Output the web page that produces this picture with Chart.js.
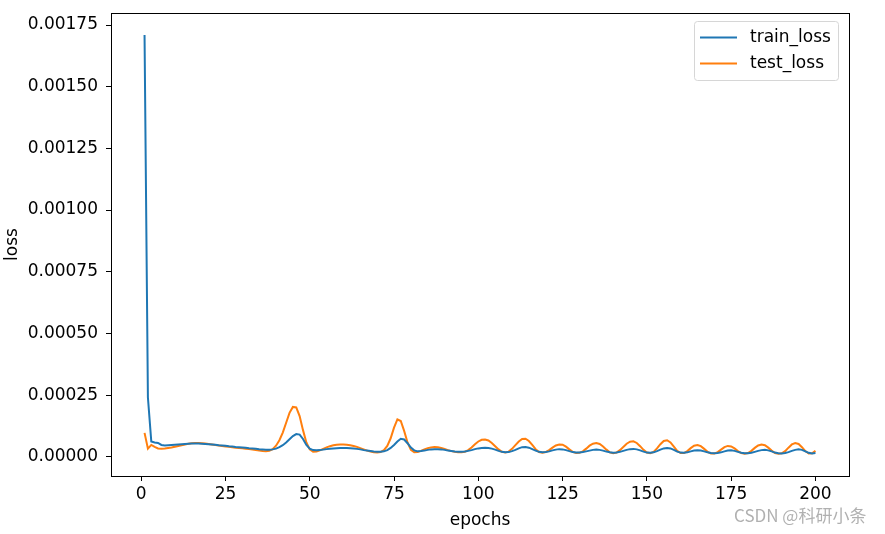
<!DOCTYPE html>
<html>
  <head>
    <script src="https://cdn.jsdelivr.net/npm/chart.js@4.4.0/dist/chart.umd.min.js"></script>
    <style>
      body { margin: 0; background: #fff; }
    </style>
  </head>
  <body>
    <canvas id="myChart" width="885" height="534"></canvas>

    <script>
      // values
      var epochs = [];
      for (var i = 1; i <= 200; i++) epochs.push(i);

      var trainLoss = [
        0.00171, 0.00024, 0.000062, 0.000058, 0.000056, 0.000048, 0.000046, 0.000047, 0.000048, 0.000049,
        0.000050, 0.000051, 0.000052, 0.000053, 0.000054, 0.000054, 0.000054, 0.000053, 0.000052, 0.000051,
        0.000050, 0.000049, 0.000047, 0.000046, 0.000045, 0.000043, 0.000042, 0.000040, 0.000039, 0.000038,
        0.000037, 0.000035, 0.000034, 0.000033, 0.000031, 0.000030, 0.000029, 0.000029, 0.000030, 0.000033,
        0.000039, 0.000047, 0.000058, 0.000071, 0.000084, 0.000092, 0.000090, 0.000072, 0.000048, 0.000033,
        0.000027, 0.000026, 0.000027, 0.000029, 0.000031, 0.000033, 0.000034, 0.000035, 0.000036, 0.000036,
        0.000036, 0.000035, 0.000034, 0.000032, 0.000030, 0.000027, 0.000025, 0.000023, 0.000021, 0.000020,
        0.000020, 0.000022, 0.000027, 0.000036, 0.000048, 0.000062, 0.000073, 0.000070, 0.000055, 0.000037,
        0.000026, 0.000022, 0.000023, 0.000025, 0.000028, 0.000030, 0.000031, 0.000031, 0.000030, 0.000028,
        0.000025, 0.000023, 0.000021, 0.000020, 0.000020, 0.000021, 0.000024, 0.000027, 0.000031, 0.000034,
        0.000036, 0.000037, 0.000036, 0.000033, 0.000029, 0.000024, 0.000020, 0.000018, 0.000019, 0.000023,
        0.000028, 0.000034, 0.000039, 0.000040, 0.000037, 0.000031, 0.000025, 0.000020, 0.000018, 0.000019,
        0.000022, 0.000026, 0.000029, 0.000031, 0.000030, 0.000027, 0.000023, 0.000019, 0.000017, 0.000017,
        0.000019, 0.000022, 0.000025, 0.000028, 0.000029, 0.000028, 0.000025, 0.000021, 0.000018, 0.000016,
        0.000017, 0.000020, 0.000024, 0.000028, 0.000031, 0.000032, 0.000030, 0.000026, 0.000021, 0.000017,
        0.000016, 0.000018, 0.000023, 0.000029, 0.000034, 0.000036, 0.000034, 0.000028, 0.000021, 0.000017,
        0.000016, 0.000018, 0.000022, 0.000025, 0.000026, 0.000025, 0.000022, 0.000018, 0.000015, 0.000014,
        0.000015, 0.000018, 0.000022, 0.000025, 0.000026, 0.000024, 0.000020, 0.000016, 0.000014, 0.000014,
        0.000016, 0.000020, 0.000024, 0.000027, 0.000028, 0.000026, 0.000022, 0.000017, 0.000014, 0.000013,
        0.000015, 0.000019, 0.000024, 0.000028, 0.000030, 0.000028, 0.000022, 0.000016, 0.000013, 0.000015
      ];

      var testLoss = [
        0.000097, 0.000033, 0.000048, 0.000040, 0.000034, 0.000033, 0.000034, 0.000036, 0.000038, 0.000041,
        0.000044, 0.000047, 0.000050, 0.000053, 0.000055, 0.000056, 0.000056, 0.000055, 0.000054, 0.000052,
        0.000050, 0.000048, 0.000046, 0.000044, 0.000042, 0.000041, 0.000039, 0.000037, 0.000036, 0.000035,
        0.000033, 0.000031, 0.000029, 0.000027, 0.000025, 0.000023, 0.000022, 0.000024, 0.000031, 0.000045,
        0.000067, 0.000098, 0.000138, 0.000178, 0.000202, 0.000200, 0.000165, 0.000108, 0.000058, 0.000030,
        0.000020, 0.000021, 0.000026, 0.000032, 0.000038, 0.000043, 0.000047, 0.000049, 0.000050, 0.000050,
        0.000049, 0.000047, 0.000044, 0.000040, 0.000035, 0.000030, 0.000025, 0.000021, 0.000018, 0.000017,
        0.000019, 0.000027, 0.000044, 0.000075, 0.000118, 0.000152, 0.000145, 0.000105, 0.000058, 0.000028,
        0.000018, 0.000019, 0.000024, 0.000030, 0.000035, 0.000038, 0.000040, 0.000039, 0.000036, 0.000032,
        0.000027, 0.000023, 0.000020, 0.000018, 0.000018, 0.000020, 0.000027, 0.000038, 0.000051, 0.000062,
        0.000069, 0.000070, 0.000066, 0.000056, 0.000043, 0.000030, 0.000020, 0.000017, 0.000021, 0.000032,
        0.000047, 0.000062, 0.000072, 0.000073, 0.000064, 0.000048, 0.000031, 0.000019, 0.000016, 0.000019,
        0.000027, 0.000037, 0.000046, 0.000050, 0.000049, 0.000041, 0.000030, 0.000020, 0.000015, 0.000016,
        0.000022, 0.000033, 0.000045, 0.000053, 0.000056, 0.000052, 0.000042, 0.000029, 0.000018, 0.000014,
        0.000017, 0.000027, 0.000040, 0.000053, 0.000061, 0.000063, 0.000056, 0.000043, 0.000028, 0.000017,
        0.000014, 0.000020, 0.000034, 0.000051, 0.000064, 0.000067, 0.000058, 0.000041, 0.000024, 0.000015,
        0.000015, 0.000023, 0.000035, 0.000045, 0.000048, 0.000043, 0.000032, 0.000020, 0.000013, 0.000013,
        0.000019, 0.000029, 0.000039, 0.000044, 0.000042, 0.000034, 0.000023, 0.000015, 0.000012, 0.000015,
        0.000024, 0.000036, 0.000046, 0.000050, 0.000047, 0.000037, 0.000025, 0.000015, 0.000012, 0.000014,
        0.000023, 0.000037, 0.000050, 0.000056, 0.000052, 0.000039, 0.000023, 0.000013, 0.000014, 0.000024
      ];

      var seriesNames = ["train_loss", "test_loss"];
      var seriesColors = ["#1f77b4", "#ff7f0e"];
      var xTitle = "epochs";
      var yTitle = "loss";
      var watermark = "CSDN @科研小条";

      var FONT = "'DejaVu Sans', sans-serif";
      var FS = 17;

      function toPoints(ys) {
        return ys.map(function (y, i) {
          return { x: epochs[i], y: y };
        });
      }

      // frame, legend and watermark drawn like matplotlib
      var extras = {
        id: "extras",
        afterDraw: function (chart) {
          var ctx = chart.ctx;
          var a = chart.chartArea;
          ctx.save();
          ctx.strokeStyle = "#000";
          ctx.lineWidth = 1;
          ctx.strokeRect(Math.round(a.left) + 0.5, Math.round(a.top) + 0.5,
            Math.round(a.right - a.left), Math.round(a.bottom - a.top));

          // legend box
          var lx = 694, ly = 21, lw = 144, lh = 59;
          ctx.fillStyle = "rgba(255,255,255,0.8)";
          ctx.strokeStyle = "#d6d6d6";
          ctx.beginPath();
          ctx.roundRect(lx + 0.5, ly + 0.5, lw, lh, 3);
          ctx.fill();
          ctx.stroke();
          ctx.font = FS + "px " + FONT;
          ctx.textBaseline = "middle";
          ctx.textAlign = "left";
          for (var i = 0; i < seriesNames.length; i++) {
            var yy = 37.5 + i * 26;
            ctx.strokeStyle = seriesColors[i];
            ctx.lineWidth = 2;
            ctx.beginPath();
            ctx.moveTo(700, yy);
            ctx.lineTo(737, yy);
            ctx.stroke();
            ctx.fillStyle = "#000";
            ctx.fillText(seriesNames[i], 750, yy);
          }

          // watermark
          ctx.font = "17px 'Noto Sans CJK SC', sans-serif";
          ctx.fillStyle = "rgba(150,150,150,0.75)";
          ctx.textAlign = "left";
          ctx.fillText(watermark, 734, 516);
          ctx.restore();
        },
      };

      var ctx = document.getElementById("myChart").getContext("2d");
      var myChart = new Chart(ctx, {
        type: "line",
        data: {
          datasets: [
            {
              label: seriesNames[0],
              data: toPoints(trainLoss),
              borderColor: seriesColors[0],
              borderWidth: 2,
              pointRadius: 0,
              fill: false,
              tension: 0,
            },
            {
              label: seriesNames[1],
              data: toPoints(testLoss),
              borderColor: seriesColors[1],
              borderWidth: 2,
              pointRadius: 0,
              fill: false,
              tension: 0,
            },
          ],
        },
        options: {
          responsive: false,
          animation: false,
          layout: { padding: { left: 0, top: 13, right: 36, bottom: 0 } },
          plugins: {
            legend: { display: false },
            tooltip: { enabled: false },
          },
          scales: {
            x: {
              type: "linear",
              min: -8.95,
              max: 209.95,
              grid: { drawOnChartArea: false, drawTicks: true, tickLength: 5, color: "#000" },
              border: { display: false },
              ticks: {
                stepSize: 25,
                includeBounds: false,
                autoSkip: false,
                maxRotation: 0,
                padding: 3,
                color: "#000",
                font: { family: FONT, size: FS },
              },
              title: {
                display: true,
                text: xTitle,
                color: "#000",
                font: { family: FONT, size: FS },
                padding: { top: 0, bottom: 3 },
              },
              afterFit: function (scale) {
                scale.height = 58;
              },
            },
            y: {
              min: -0.0000779,
              max: 0.0017987,
              grid: { drawOnChartArea: false, drawTicks: true, tickLength: 5, color: "#000" },
              border: { display: false },
              ticks: {
                stepSize: 0.00025,
                includeBounds: false,
                padding: 8,
                color: "#000",
                font: { family: FONT, size: FS },
                callback: function (v) {
                  return v.toFixed(5);
                },
              },
              title: {
                display: true,
                text: yTitle,
                color: "#000",
                font: { family: FONT, size: FS },
                padding: { top: 2, bottom: 0 },
              },
              afterFit: function (scale) {
                scale.width = 111;
                scale.paddingTop = 0;
                scale.paddingBottom = 0;
              },
            },
          },
        },
        plugins: [extras],
      });
    </script>
  </body>
</html>
